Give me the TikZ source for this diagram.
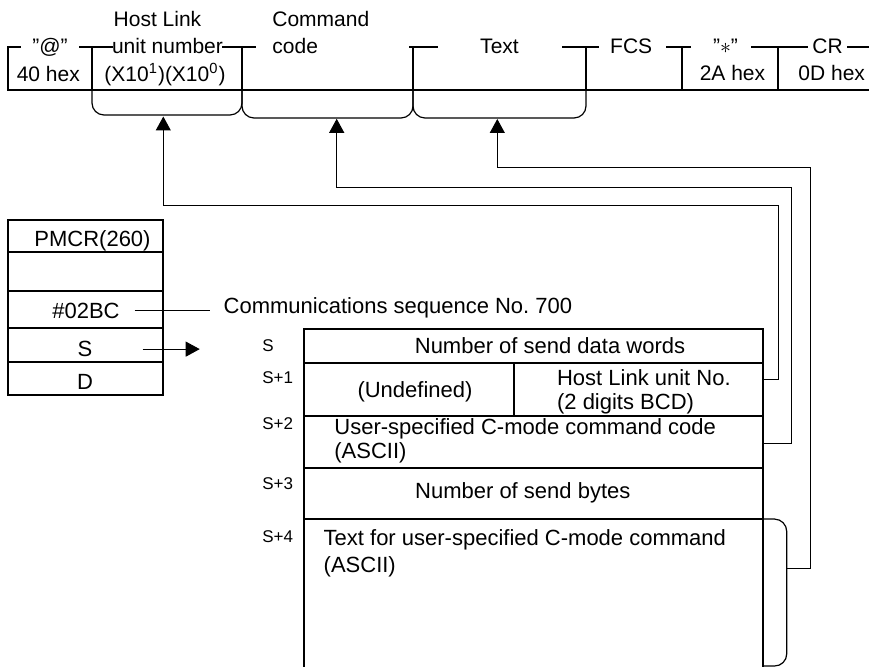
\documentclass[tikz,border=0pt]{standalone}
\usepackage{fontspec}
\setmainfont{Liberation Sans}
\usetikzlibrary{arrows.meta,fit}
\frenchspacing

\begin{document}
\begin{tikzpicture}[x=0.5pt,y=-0.5pt,
  font=\fontsize{11}{13}\selectfont,
  frame/.style={line width=1pt,line cap=rect},
  cell/.style={draw,line width=1pt,inner sep=0pt},
  link/.style={line width=0.5pt,-{Triangle[length=7pt,width=7.5pt]}},
  brace/.style={line width=0.6pt,rounded corners=6pt},
  lbl/.style={inner sep=0pt,anchor=base},
  fld/.style={inner sep=0pt,anchor=base,font=\fontsize{10.5}{12}\selectfont},
  addr/.style={inner sep=0pt,anchor=base west,font=\fontsize{8.5}{10}\selectfont}]
  \useasboundingbox (0,0) rectangle (869,667);

  % command frame
  \draw[frame] (8,90) -- (869,90);
  \foreach \x in {8,92,242,413,586,682,778}
    \draw[frame] (\x,47) -- (\x,90);
  \foreach \a/\b in {8/20,80/112,223/255,410/437,563/598,667/690,752/807,848/869}
    \draw[frame] (\a,47) -- (\b,47);
  \node[fld] (fat) at (50,53.3) {\symbol{34}@\symbol{34}};
  \node[fld] (fhex40) at (48.3,81.5) {40 hex};
  \node[fld] (fhost) at (157.5,26.7) {Host Link};
  \node[fld] (funit) at (167.5,53.3) {unit number};
  \node[fld] (fdigits) at (165,81.5) {(X10\textsuperscript{1})(X10\textsuperscript{0})};
  \node[fld,anchor=base west] (fcmd) at (272,26.7) {Command};
  \node[fld,anchor=base west] (fcode) at (272,53.3) {code};
  \node[fld] (ftext) at (499.5,53.3) {Text};
  \node[fld] (ffcs) at (631.2,53.3) {FCS};
  \node[fld] (fast) at (725.5,53.3) {\symbol{34}$\ast$\symbol{34}};
  \node[fld] (fhex2a) at (732.5,81) {2A hex};
  \node[fld] (fcr) at (827.5,53.3) {CR};
  \node[fld] (fhex0d) at (831.7,81) {0D hex};

  % braces under the fields
  \draw[brace] (92,90) -- (92,115) -- (242,115) -- (242,90);
  \draw[brace] (242,90) -- (242,118) -- (413,118) -- (413,90);
  \draw[brace] (413,90) -- (413,118) -- (586,118) -- (586,90);
  \coordinate (unitarrow) at (163.3,116.5);
  \coordinate (cmdarrow) at (336.7,118.8);
  \coordinate (textarrow) at (497.3,119);

  % instruction operands
  \node[cell,fit={(8.3,220) (163.3,252.3)}] (pmname) {};
  \node[cell,fit={(8.3,252.3) (163.3,291)}] (pmblank) {};
  \node[cell,fit={(8.3,291) (163.3,328.5)}] (pmcode) {};
  \node[cell,fit={(8.3,328.5) (163.3,362.5)}] (pmS) {};
  \node[cell,fit={(8.3,362.5) (163.3,395)}] (pmD) {};
  \node[lbl] (tname) at (92.5,246.7) {PMCR(260)};
  \node[lbl] (tcode) at (86,318.3) {\#02BC};
  \node[lbl] (tS) at (85,356.7) {S};
  \node[lbl] (tD) at (85,389.3) {D};
  \node[lbl,anchor=base west] (seqnote) at (223.3,313.3) {Communications sequence No. 700};
  \draw[line width=0.5pt] ([xshift=7.35pt]tcode.east) -- ([xshift=-6.65pt]tcode.east -| seqnote.west);
  \draw[link] ([xshift=25pt]tS.east) -- ++(57,0);

  % send data table
  \node[cell,fit={(304,329.3) (763,362.7)}] (cwords) {};
  \node[cell,fit={(304,362.7) (514.3,416)}] (cundef) {};
  \node[cell,fit={(514.3,362.7) (763,416)}] (chost) {};
  \node[cell,fit={(304,416) (763,467.7)}] (ccmd) {};
  \node[cell,fit={(304,467.7) (763,519.3)}] (cbytes) {};
  \node[inner sep=0pt,fit={(304,519.3) (763,667)}] (ctext) {};
  \draw[frame,line cap=butt] (ctext.south west) -- (ctext.north west)
    (ctext.north east) -- (ctext.south east);
  \node[lbl] (twords) at (550,354) {Number of send data words};
  \node[lbl] (tundef) at (415,397.3) {(Undefined)};
  \node[lbl,anchor=base west] (thost) at (556.7,386) {Host Link unit No.};
  \node[lbl,anchor=base west] (tbcd) at (556.7,409.3) {(2 digits BCD)};
  \node[lbl,anchor=base west] (tcmd) at (334,435) {User-specified C-mode command code};
  \node[lbl,anchor=base west] (tcmdasc) at (334,458.3) {(ASCII)};
  \node[lbl] (tbytes) at (522.8,498.7) {Number of send bytes};
  \node[lbl,anchor=base west] (ttext) at (323.3,545.3) {Text for user-specified C-mode command};
  \node[lbl,anchor=base west] (ttextasc) at (323.3,573) {(ASCII)};
  \foreach \t/\y [count=\i] in {S/351.7,S+1/383.3,S+2/429.3,S+3/489.7,S+4/543}
    \node[addr] (addr\i) at (262,\y) {\t};

  % links back to the frame
  \draw[brace] (ctext.north east) -- (786.7,519.3) -- (786.7,666) -- (763,666);
  \coordinate (textjoin) at (786.7,568.7);
  \draw[link] ([yshift=5pt]chost.east) -| (778.3,206) -| (unitarrow);
  \draw[link] ([yshift=-1pt]ccmd.east) -| (791.3,187.3) -| (cmdarrow);
  \draw[link] (textjoin) -| (810.7,167.7) -| (textarrow);
\end{tikzpicture}
\end{document}
